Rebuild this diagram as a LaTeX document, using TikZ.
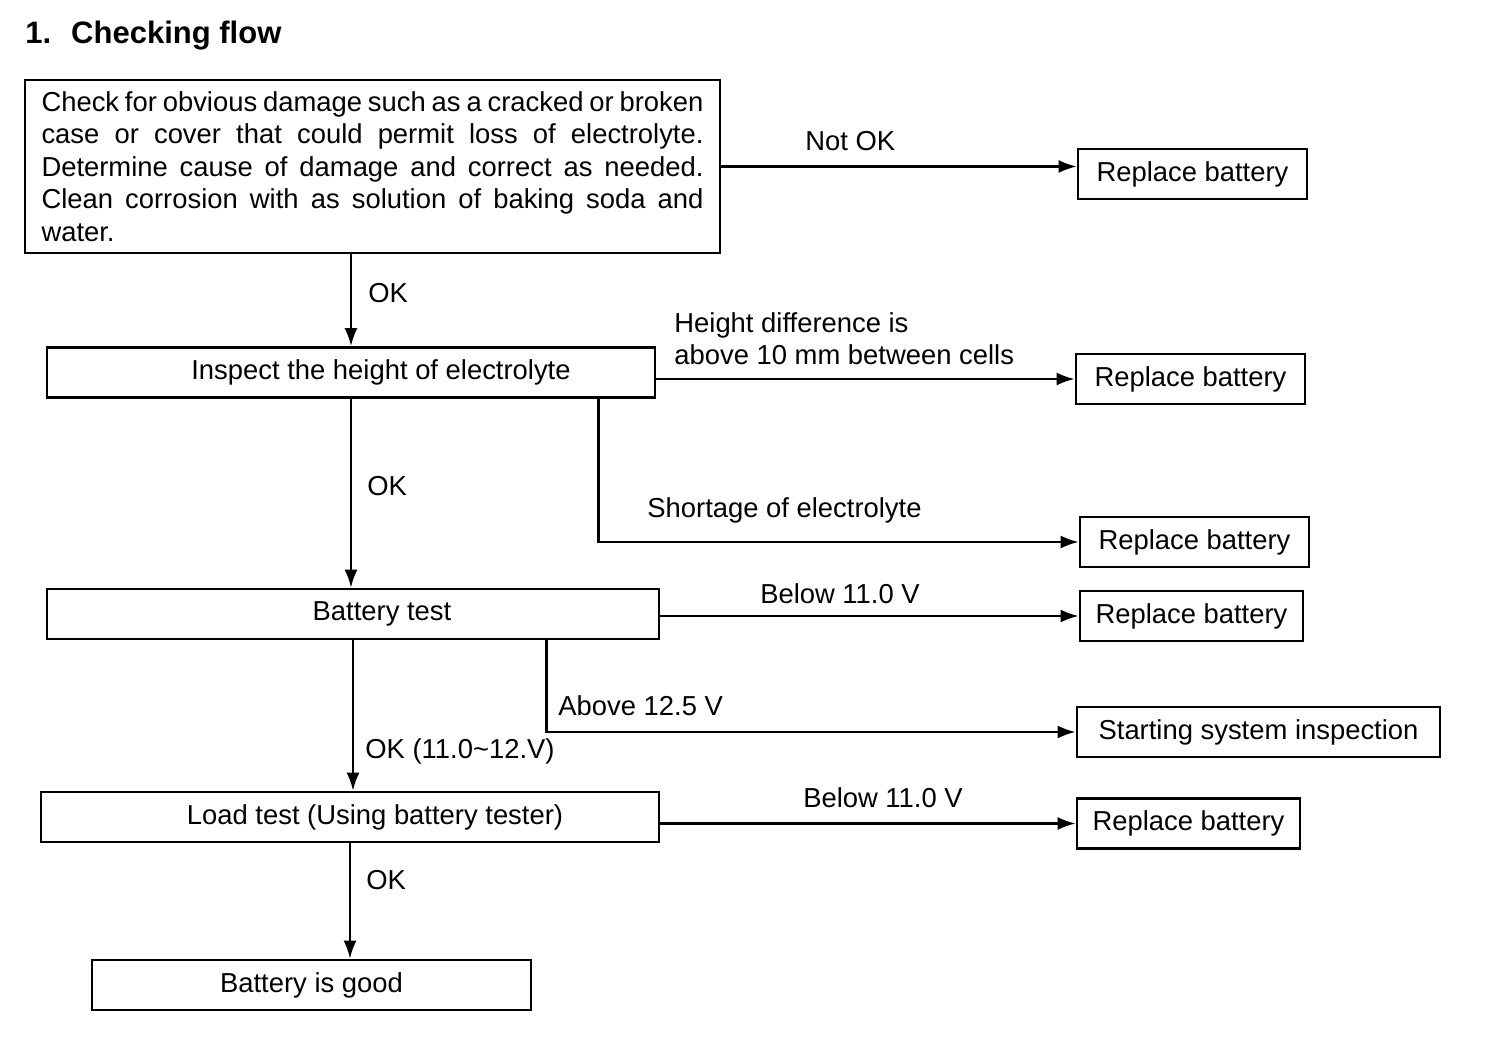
\documentclass[tikz,border=0pt]{standalone}
\usepackage{fontspec}
\setmainfont{Liberation Sans}
\usetikzlibrary{arrows.meta,calc}

\tikzset{
  box/.style={draw=black, line width=1.4pt, inner sep=0pt, minimum height=25pt,
    font=\fontsize{13.7}{16.25}\selectfont},
  lbl/.style={anchor=base west, inner sep=0pt, font=\fontsize{13.7}{16}\selectfont},
  arr/.style={line width=1.1pt, -{Latex[length=9pt,width=6.5pt]}},
}

\begin{document}
\begin{tikzpicture}[x=0.5pt,y=-0.5pt]
\useasboundingbox (0,0) rectangle (1504,1050);

\node[anchor=base west, inner sep=0pt, font=\fontsize{15.5}{18}\selectfont\bfseries] (title) at (25,43) {1.\hspace{10pt}Checking flow};

% main column
\node[box, minimum width=347.5pt, minimum height=86.5pt, text width=331pt, align=justify] (chk) at (372.5,166.5)
  {{\spaceskip=.1em plus .5em\relax Check for obvious damage such as a cracked or broken}\linebreak
   case or cover that could permit loss of electrolyte.\linebreak
   Determine cause of damage and correct as needed.\linebreak
   Clean corrosion with as solution of baking soda and\linebreak
   water.};
\node[box, minimum width=304pt] (insp) at (351,372.5) {\hspace*{30pt}Inspect the height of electrolyte};
\node[box, minimum width=306pt] (batt) at (353,614) {\hspace*{29pt}Battery test};
\node[box, minimum width=309pt] (load) at (350,817) {\hspace*{25pt}Load test (Using battery tester)};
\node[box, minimum width=219.5pt] (good) at (311.5,985) {Battery is good};

% right column
\foreach \n/\x/\y/\w in {1/1192.5/174/114.5, 2/1190.5/379/114.5, 3/1194.5/542/114.5,
                          4/1191.5/616/111.5, 5/1188.5/823.5/111.5}
  \node[box, minimum width=\w pt] (rep\n) at (\x,\y) {Replace battery};
\node[box, minimum width=181.5pt] (start) at (1258.5,732) {Starting system inspection};

% connectors
\draw[arr] (chk.east) -- (chk.east -| rep1.west);
\draw[arr] (chk.south -| insp.north) -- (insp.north);
\draw[arr] (rep2.west -| insp.east) -- (rep2.west);
\draw[arr] ($(insp.south east)+(-58,0)$) |- (rep3.west);
\draw[arr] (insp.south) -- (insp.south |- batt.north);
\draw[arr] (rep4.west -| batt.east) -- (rep4.west);
\draw[arr] ($(batt.south east)+(-114,0)$) |- (start.west);
\draw[arr] (batt.south) -- (batt.south |- load.north);
\draw[arr] (rep5.west -| load.east) -- (rep5.west);
\draw[arr] (load.south) -- (load.south |- good.north);

% labels
\node[lbl] (notok) at (805,150) {Not OK};
\node[lbl, align=left] (hdiff) at (674,364) {Height difference is\\above 10 mm between cells};
\node[lbl] (short) at (647,517) {Shortage of electrolyte};
\node[lbl, anchor=base] (below1) at (840,603) {Below 11.0 V};
\node[lbl] (above) at (558,715) {Above 12.5 V};
\node[lbl, anchor=base] (below2) at (883,807) {Below 11.0 V};
\node[lbl] (ok1) at (368,302) {OK};
\node[lbl] (ok2) at (367,495) {OK};
\node[lbl] (ok3) at (365,758) {OK (11.0\textasciitilde 12.V)};
\node[lbl] (ok4) at (366,889) {OK};

\end{tikzpicture}
\end{document}
